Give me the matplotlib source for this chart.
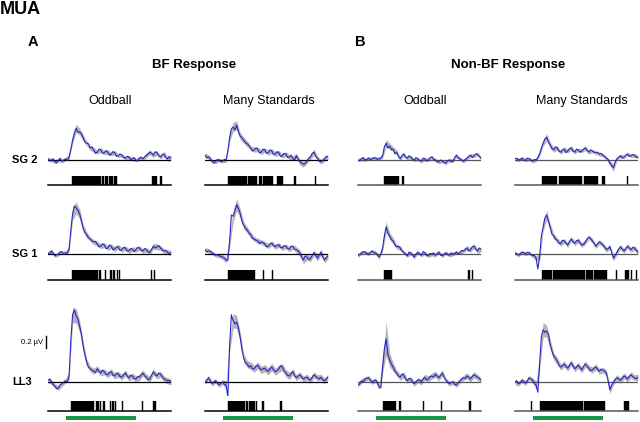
import numpy as np
import matplotlib
matplotlib.use('Agg')
import matplotlib.pyplot as plt

plt.rcParams['font.family'] = ['Liberation Sans', 'DejaVu Sans']

# time base of the averaged MUA traces (ms), 5 ms samples
time_ms = [-50, -45, -40, -35, -30, -25, -20, -15, -10, -5, 0,
           5, 10, 15, 20, 25, 30, 35, 40, 45, 50, 55, 60, 65, 70, 75, 80, 85, 90, 95, 100,
           105, 110, 115, 120, 125, 130, 135, 140, 145, 150, 155, 160, 165, 170, 175, 180, 185, 190, 195, 200,
           205, 210, 215, 220, 225, 230, 235, 240, 245, 250, 255, 260, 265, 270, 275, 280, 285, 290, 295, 300]
# the SEM was read on a 10 ms grid (every second sample)
sem_time_ms = time_ms[::2]
stim_on, stim_off = 0, 200
scale_uv = 0.2

row_names = ['SG 2', 'SG 1', 'LL3']
col_names = ['Oddball', 'Many Standards', 'Oddball', 'Many Standards']
group_names = ['BF Response', 'Non-BF Response']

# mean MUA (uV) - SG 2
sg2_bf_odd = [0.02, -0.02, 0.00, 0.02, -0.03, -0.05, 0.00, 0.03, -0.02, 0.00, 0.02,
              -0.01, 0.05, 0.18, 0.33, 0.45, 0.53, 0.46, 0.47, 0.44, 0.37, 0.30, 0.28, 0.27, 0.20, 0.22, 0.17, 0.11, 0.13, 0.18, 0.17,
              0.11, 0.12, 0.16, 0.13, 0.08, 0.10, 0.14, 0.12, 0.06, 0.07, 0.10, 0.08, 0.04, 0.03, 0.06, 0.05, 0.00, 0.02, 0.04, 0.00,
              -0.02, 0.03, 0.05, 0.02, 0.05, 0.08, 0.10, 0.13, 0.11, 0.08, 0.14, 0.12, 0.07, 0.05, 0.09, 0.10, 0.04, 0.02, 0.06, 0.03]
sg2_bf_ms = [0.08, 0.04, 0.05, 0.03, -0.02, -0.05, -0.03, 0.01, 0.00, -0.03, -0.02,
             0.01, 0.00, 0.15, 0.37, 0.52, 0.55, 0.50, 0.58, 0.47, 0.40, 0.37, 0.33, 0.29, 0.27, 0.24, 0.20, 0.15, 0.17, 0.20, 0.18,
             0.12, 0.13, 0.18, 0.17, 0.11, 0.12, 0.17, 0.15, 0.09, 0.10, 0.14, 0.12, 0.06, 0.07, 0.11, 0.10, 0.04, 0.05, 0.08, 0.03,
             0.00, 0.07, 0.01, -0.03, -0.05, -0.07, -0.06, -0.02, 0.03, 0.05, 0.11, 0.13, 0.06, 0.03, -0.02, -0.03, -0.01, 0.02, 0.06, 0.05]
sg2_nbf_odd = [0.00, -0.01, 0.02, 0.04, 0.00, 0.01, 0.03, 0.00, 0.02, 0.04, 0.03,
               0.01, 0.02, 0.03, 0.07, 0.22, 0.28, 0.20, 0.23, 0.17, 0.18, 0.10, 0.13, 0.06, 0.02, 0.07, 0.10, 0.04, 0.03, 0.07, 0.05,
               0.01, 0.00, 0.04, 0.02, -0.01, -0.02, 0.03, 0.02, -0.02, 0.00, 0.04, 0.05, 0.01, 0.00, -0.03, -0.03, 0.00, -0.02, -0.04, -0.05,
               -0.01, 0.00, -0.03, -0.02, 0.04, 0.08, 0.03, 0.02, 0.00, -0.02, 0.01, 0.03, 0.06, 0.08, 0.04, 0.07, 0.10, 0.10, 0.06, 0.03]
sg2_nbf_ms = [0.02, 0.03, 0.00, 0.01, 0.03, -0.01, 0.00, 0.03, 0.02, 0.00, -0.02,
              0.01, 0.00, 0.04, 0.10, 0.20, 0.28, 0.35, 0.38, 0.30, 0.25, 0.19, 0.17, 0.22, 0.20, 0.15, 0.13, 0.17, 0.18, 0.12, 0.15,
              0.19, 0.20, 0.15, 0.13, 0.18, 0.17, 0.13, 0.15, 0.18, 0.20, 0.16, 0.13, 0.17, 0.15, 0.13, 0.12, 0.13, 0.10, 0.11, 0.08,
              0.06, 0.03, 0.01, -0.05, -0.09, -0.13, -0.03, 0.02, 0.05, 0.07, 0.03, 0.05, 0.08, 0.10, 0.06, 0.07, 0.09, 0.08, 0.04, 0.05]
# SG 1
sg1_bf_odd = [0.02, 0.00, 0.05, 0.01, -0.03, -0.01, 0.00, 0.04, 0.03, -0.01, 0.02,
              0.02, 0.08, 0.40, 0.67, 0.80, 0.77, 0.73, 0.67, 0.55, 0.43, 0.36, 0.32, 0.27, 0.25, 0.22, 0.20, 0.21, 0.17, 0.12, 0.13,
              0.17, 0.15, 0.09, 0.10, 0.15, 0.13, 0.07, 0.08, 0.12, 0.12, 0.06, 0.07, 0.11, 0.10, 0.05, 0.05, 0.09, 0.08, 0.04, 0.07,
              0.11, 0.10, 0.06, 0.05, 0.09, 0.07, 0.03, 0.03, 0.08, 0.13, 0.10, 0.12, 0.14, 0.10, 0.07, 0.05, 0.06, 0.03, 0.01, 0.02]
sg1_bf_ms = [0.07, 0.04, 0.05, 0.05, 0.02, 0.00, -0.02, -0.01, -0.03, -0.04, -0.05,
             -0.07, -0.10, -0.11, 0.20, 0.65, 0.63, 0.72, 0.82, 0.76, 0.68, 0.55, 0.48, 0.43, 0.40, 0.35, 0.32, 0.26, 0.25, 0.23, 0.22,
             0.17, 0.20, 0.19, 0.17, 0.12, 0.13, 0.17, 0.18, 0.14, 0.12, 0.15, 0.15, 0.11, 0.10, 0.14, 0.13, 0.09, 0.08, 0.13, 0.12,
             0.08, 0.07, 0.05, 0.02, -0.06, -0.10, -0.03, -0.05, -0.09, -0.08, -0.02, 0.02, -0.02, -0.07, -0.02, 0.03, -0.05, -0.10, -0.06, -0.03]
sg1_nbf_odd = [-0.03, 0.00, 0.02, 0.04, 0.03, 0.01, 0.00, 0.03, 0.05, 0.02, 0.02,
               -0.01, -0.05, 0.00, 0.10, 0.30, 0.45, 0.35, 0.30, 0.24, 0.22, 0.15, 0.12, 0.13, 0.10, 0.05, 0.03, 0.00, -0.03, 0.03, 0.02,
               -0.02, -0.05, 0.00, 0.03, 0.00, -0.02, 0.04, 0.02, -0.03, -0.03, 0.01, 0.00, 0.02, -0.02, 0.01, 0.03, -0.02, -0.03, 0.00, 0.02,
               -0.01, -0.02, 0.02, 0.00, 0.01, 0.03, 0.00, 0.02, 0.06, 0.05, 0.08, 0.10, 0.05, 0.07, 0.12, 0.13, 0.08, 0.05, 0.10, 0.08]
sg1_nbf_ms = [0.02, 0.00, -0.02, 0.01, 0.03, 0.02, 0.00, 0.03, 0.02, -0.01, -0.03,
              -0.02, -0.07, -0.25, -0.05, 0.30, 0.45, 0.60, 0.65, 0.55, 0.45, 0.33, 0.30, 0.25, 0.23, 0.18, 0.17, 0.23, 0.22, 0.18, 0.15,
              0.21, 0.25, 0.20, 0.18, 0.22, 0.23, 0.18, 0.15, 0.16, 0.20, 0.25, 0.28, 0.26, 0.22, 0.18, 0.13, 0.17, 0.20, 0.18, 0.15,
              0.12, 0.07, 0.09, 0.12, 0.03, -0.07, -0.02, 0.03, 0.08, 0.12, 0.08, 0.05, 0.09, 0.13, 0.10, 0.07, 0.11, 0.10, 0.06, 0.03]
# LL3
ll3_bf_odd = [0.03, 0.05, 0.00, -0.05, -0.07, -0.11, -0.10, -0.04, -0.03, 0.00, 0.02,
              0.00, 0.10, 0.70, 1.12, 1.20, 1.10, 1.05, 0.93, 0.80, 0.60, 0.45, 0.33, 0.25, 0.22, 0.20, 0.18, 0.16, 0.22, 0.18, 0.15,
              0.20, 0.17, 0.13, 0.12, 0.16, 0.17, 0.11, 0.10, 0.15, 0.13, 0.09, 0.08, 0.12, 0.15, 0.10, 0.07, 0.11, 0.10, 0.06, 0.05,
              0.09, 0.08, 0.12, 0.15, 0.10, 0.08, 0.04, 0.05, 0.12, 0.17, 0.12, 0.10, 0.15, 0.13, 0.09, 0.05, 0.04, 0.02, 0.03, 0.00]
ll3_bf_ms = [0.00, 0.03, 0.07, 0.02, -0.03, 0.00, 0.02, -0.02, -0.05, -0.02, 0.00,
             -0.04, -0.05, -0.25, 0.60, 1.12, 1.02, 0.97, 1.00, 0.90, 0.75, 0.55, 0.40, 0.32, 0.30, 0.25, 0.27, 0.22, 0.22, 0.26, 0.28,
             0.23, 0.20, 0.22, 0.23, 0.19, 0.18, 0.22, 0.25, 0.20, 0.17, 0.19, 0.22, 0.27, 0.25, 0.18, 0.15, 0.11, 0.10, 0.14, 0.17,
             0.10, 0.07, 0.10, 0.12, 0.08, 0.05, 0.07, 0.08, 0.05, 0.03, 0.08, 0.12, 0.09, 0.07, 0.05, 0.08, 0.04, 0.02, 0.05, 0.08]
ll3_nbf_odd = [-0.05, -0.03, 0.02, 0.00, 0.05, 0.06, 0.07, 0.03, 0.00, 0.02, 0.03,
               0.00, -0.08, -0.10, 0.25, 0.55, 0.72, 0.45, 0.37, 0.30, 0.25, 0.18, 0.15, 0.10, 0.08, 0.13, 0.12, 0.05, 0.02, 0.06, 0.05,
               0.00, -0.03, 0.01, 0.03, 0.04, 0.00, 0.05, 0.08, 0.03, 0.05, 0.09, 0.10, 0.08, 0.13, 0.10, 0.07, 0.11, 0.15, 0.08, 0.03,
               0.00, -0.03, -0.01, 0.00, -0.04, -0.05, -0.01, 0.02, 0.05, 0.07, 0.06, 0.10, 0.08, 0.05, 0.09, 0.12, 0.10, 0.08, 0.06, 0.03]
ll3_nbf_ms = [0.00, 0.02, -0.03, -0.01, 0.03, 0.01, -0.02, 0.02, 0.07, 0.05, 0.03,
              -0.03, -0.05, -0.17, 0.30, 0.75, 0.87, 0.83, 0.85, 0.80, 0.63, 0.52, 0.43, 0.40, 0.35, 0.28, 0.25, 0.27, 0.30, 0.26, 0.23,
              0.28, 0.32, 0.27, 0.22, 0.25, 0.28, 0.24, 0.20, 0.26, 0.30, 0.26, 0.23, 0.19, 0.20, 0.23, 0.25, 0.21, 0.18, 0.21, 0.20,
              0.18, 0.15, 0.02, -0.13, -0.05, 0.00, 0.04, 0.07, 0.05, 0.03, 0.06, 0.10, 0.08, 0.05, 0.09, 0.12, 0.09, 0.07, 0.05, 0.08]

# SEM (uV), 10 ms grid
sg2_bf_odd_sem = [0.03, 0.03, 0.03, 0.03, 0.03, 0.03, 0.04, 0.05, 0.07, 0.06, 0.05, 0.04, 0.04, 0.04, 0.03, 0.04, 0.03, 0.04,
                  0.03, 0.04, 0.03, 0.03, 0.03, 0.03, 0.03, 0.03, 0.03, 0.03, 0.04, 0.04, 0.04, 0.04, 0.03, 0.04, 0.04, 0.04]
sg2_bf_ms_sem = [0.04, 0.04, 0.03, 0.03, 0.03, 0.03, 0.04, 0.06, 0.08, 0.07, 0.06, 0.05, 0.05, 0.04, 0.04, 0.04, 0.04, 0.04,
                 0.04, 0.04, 0.04, 0.04, 0.04, 0.04, 0.04, 0.04, 0.04, 0.05, 0.05, 0.04, 0.04, 0.05, 0.04, 0.04, 0.04, 0.04]
sg2_nbf_odd_sem = [0.03, 0.03, 0.03, 0.03, 0.03, 0.03, 0.03, 0.04, 0.06, 0.05, 0.04, 0.04, 0.03, 0.03, 0.03, 0.03, 0.03, 0.03,
                   0.03, 0.03, 0.03, 0.03, 0.03, 0.03, 0.03, 0.03, 0.03, 0.03, 0.03, 0.03, 0.03, 0.03, 0.03, 0.03, 0.03, 0.03]
sg2_nbf_ms_sem = [0.03, 0.03, 0.03, 0.03, 0.03, 0.03, 0.03, 0.04, 0.05, 0.06, 0.05, 0.04, 0.04, 0.03, 0.04, 0.03, 0.04, 0.03,
                  0.03, 0.03, 0.04, 0.03, 0.03, 0.03, 0.03, 0.03, 0.03, 0.04, 0.06, 0.03, 0.03, 0.03, 0.03, 0.03, 0.03, 0.03]
sg1_bf_odd_sem = [0.03, 0.03, 0.03, 0.03, 0.03, 0.03, 0.05, 0.10, 0.10, 0.08, 0.06, 0.05, 0.04, 0.04, 0.04, 0.04, 0.04, 0.04,
                  0.04, 0.04, 0.04, 0.04, 0.04, 0.04, 0.04, 0.04, 0.04, 0.04, 0.04, 0.04, 0.05, 0.05, 0.04, 0.04, 0.04, 0.04]
sg1_bf_ms_sem = [0.04, 0.04, 0.03, 0.03, 0.03, 0.04, 0.05, 0.08, 0.10, 0.10, 0.08, 0.06, 0.05, 0.05, 0.04, 0.04, 0.04, 0.04,
                 0.04, 0.04, 0.04, 0.04, 0.04, 0.04, 0.04, 0.04, 0.05, 0.05, 0.06, 0.05, 0.05, 0.05, 0.05, 0.05, 0.05, 0.05]
sg1_nbf_odd_sem = [0.03, 0.03, 0.03, 0.03, 0.03, 0.03, 0.04, 0.05, 0.09, 0.06, 0.05, 0.04, 0.04, 0.03, 0.03, 0.03, 0.03, 0.03,
                   0.03, 0.03, 0.03, 0.03, 0.03, 0.03, 0.03, 0.03, 0.03, 0.03, 0.03, 0.03, 0.03, 0.04, 0.04, 0.04, 0.04, 0.04]
sg1_nbf_ms_sem = [0.03, 0.03, 0.03, 0.03, 0.03, 0.03, 0.04, 0.06, 0.07, 0.08, 0.06, 0.05, 0.04, 0.04, 0.04, 0.04, 0.04, 0.04,
                  0.04, 0.04, 0.04, 0.04, 0.04, 0.04, 0.04, 0.04, 0.04, 0.04, 0.05, 0.04, 0.04, 0.04, 0.04, 0.04, 0.04, 0.04]
ll3_bf_odd_sem = [0.04, 0.04, 0.04, 0.04, 0.04, 0.04, 0.06, 0.13, 0.12, 0.10, 0.08, 0.06, 0.05, 0.05, 0.05, 0.05, 0.05, 0.05,
                  0.05, 0.05, 0.05, 0.05, 0.05, 0.05, 0.05, 0.05, 0.05, 0.05, 0.05, 0.05, 0.05, 0.05, 0.05, 0.05, 0.05, 0.05]
ll3_bf_ms_sem = [0.04, 0.04, 0.04, 0.04, 0.04, 0.04, 0.07, 0.10, 0.12, 0.11, 0.09, 0.07, 0.06, 0.06, 0.06, 0.06, 0.06, 0.06,
                 0.06, 0.06, 0.06, 0.06, 0.06, 0.06, 0.06, 0.05, 0.05, 0.05, 0.05, 0.05, 0.05, 0.05, 0.05, 0.05, 0.05, 0.05]
ll3_nbf_odd_sem = [0.04, 0.04, 0.04, 0.04, 0.04, 0.04, 0.05, 0.10, 0.28, 0.12, 0.07, 0.05, 0.05, 0.05, 0.04, 0.04, 0.04, 0.04,
                   0.05, 0.05, 0.05, 0.05, 0.05, 0.05, 0.05, 0.04, 0.04, 0.04, 0.04, 0.04, 0.04, 0.05, 0.05, 0.05, 0.05, 0.04]
ll3_nbf_ms_sem = [0.04, 0.04, 0.04, 0.04, 0.04, 0.04, 0.07, 0.10, 0.12, 0.10, 0.08, 0.06, 0.06, 0.05, 0.05, 0.05, 0.05, 0.05,
                  0.05, 0.05, 0.05, 0.05, 0.05, 0.05, 0.05, 0.05, 0.05, 0.06, 0.05, 0.05, 0.05, 0.05, 0.05, 0.05, 0.05, 0.05]

# significant time windows (ms)
sg2_bf_odd_sig = [(17, 100), (103, 108), (113, 120), (123, 136), (139, 146), (245, 259), (269, 273)]
sg2_bf_ms_sig = [(16, 69), (72, 97), (104, 112), (115, 144), (156, 173), (204, 208), (263, 267)]
sg2_nbf_odd_sig = [(25, 67), (74, 81)]
sg2_nbf_ms_sig = [(26, 69), (76, 140), (147, 187), (197, 206), (268, 271)]
sg1_bf_odd_sig = [(17, 93), (95, 100), (112, 115), (126, 131), (136, 141), (145, 150), (152, 155), (243, 246), (251, 254)]
sg1_bf_ms_sig = [(16, 92), (114, 118), (140, 144)]
sg1_nbf_odd_sig = [(24, 46), (264, 269), (274, 278)]
sg1_nbf_ms_sig = [(26, 56), (58, 77), (79, 120), (122, 149), (151, 172), (174, 182), (184, 211), (238, 240),
                  (262, 275), (281, 283), (295, 297)]
ll3_bf_odd_sig = [(16, 82), (87, 96), (98, 102), (107, 111), (125, 129), (133, 138), (141, 144), (160, 163), (217, 220),
                  (250, 257)]
ll3_bf_ms_sig = [(16, 64), (66, 73), (76, 83), (85, 92), (95, 99), (113, 118), (163, 169)]
ll3_nbf_odd_sig = [(22, 57), (67, 72), (134, 138), (186, 189), (267, 271)]
ll3_nbf_ms_sig = [(-5, -2), (21, 144), (146, 206), (261, 275)]

panels = [
    [(sg2_bf_odd, sg2_bf_odd_sem, sg2_bf_odd_sig), (sg2_bf_ms, sg2_bf_ms_sem, sg2_bf_ms_sig),
     (sg2_nbf_odd, sg2_nbf_odd_sem, sg2_nbf_odd_sig), (sg2_nbf_ms, sg2_nbf_ms_sem, sg2_nbf_ms_sig)],
    [(sg1_bf_odd, sg1_bf_odd_sem, sg1_bf_odd_sig), (sg1_bf_ms, sg1_bf_ms_sem, sg1_bf_ms_sig),
     (sg1_nbf_odd, sg1_nbf_odd_sem, sg1_nbf_odd_sig), (sg1_nbf_ms, sg1_nbf_ms_sem, sg1_nbf_ms_sig)],
    [(ll3_bf_odd, ll3_bf_odd_sem, ll3_bf_odd_sig), (ll3_bf_ms, ll3_bf_ms_sem, ll3_bf_ms_sig),
     (ll3_nbf_odd, ll3_nbf_odd_sem, ll3_nbf_odd_sig), (ll3_nbf_ms, ll3_nbf_ms_sem, ll3_nbf_ms_sig)],
]

W, H = 640, 422
PX_PER_UV = 60.0
col_x = [(48, 171), (205, 328), (358, 481), (515, 638)]
row_box = [(112, 172, 160), (195, 272, 254), (295, 396, 382)]  # top, bottom, zero line (px)
sig_box = [(176, 185), (270, 280), (401, 411)]
line_col = ['black', 'black', '#555555', '#555555']


def px_axes(fig, x0, y0, x1, y1):
    ax = fig.add_axes([x0 / W, 1 - y1 / H, (x1 - x0) / W, (y1 - y0) / H])
    ax.axis('off')
    ax.set_xlim(time_ms[0], time_ms[-1])
    return ax


def fig_text(fig, x, y, s, **kw):
    fig.text(x / W, 1 - y / H, s, **kw)


fig = plt.figure(figsize=(6.4, 4.22), dpi=100)

for r in range(3):
    top, bot, base = row_box[r]
    for c in range(4):
        x0, x1 = col_x[c]
        mean, sem, sig = panels[r][c]
        m = np.array(mean)
        m10 = m[::2]
        s = np.array(sem)
        ax = px_axes(fig, x0, top, x1, bot)
        ax.set_ylim(-(bot - base) / PX_PER_UV, (base - top) / PX_PER_UV)
        ax.fill_between(sem_time_ms, m10 - s, m10 + s, color='#b5b5b5', lw=0)
        ax.axhline(0, color=line_col[c], lw=0.9)
        ax.plot(time_ms, m, color='#2525c8', lw=0.8)
        if r == 2 and c == 0:
            # scale bar
            xb = time_ms[0] - 6
            y_lo = (base - 348) / PX_PER_UV
            ax.plot([xb, xb], [y_lo, y_lo + scale_uv], color='black', lw=1, clip_on=False)
            ax.text(xb - 9, y_lo + scale_uv / 2, '%.1f \u00b5V' % scale_uv, fontsize=5.5,
                    ha='right', va='center', clip_on=False)

        st, sb = sig_box[r]
        sx = px_axes(fig, x0, st, x1, sb)
        sx.set_ylim(0, 1)
        sx.broken_barh([(a, b - a) for a, b in sig], (0, 1), facecolor='black',
                       edgecolor='black', lw=0.3)
        sx.axhline(0, color=line_col[c], lw=1.1, clip_on=False)

        if r == 2:
            gx = px_axes(fig, x0, 416, x1, 420)
            gx.set_ylim(0, 1)
            gx.broken_barh([(stim_on, stim_off - stim_on)], (0, 1), facecolor='#15964a', lw=0)

# labels
fig_text(fig, 0, 9, 'MUA', fontsize=13, fontweight='bold', ha='left', va='center')
fig_text(fig, 28, 42, 'A', fontsize=10.5, fontweight='bold', ha='left', va='center')
fig_text(fig, 355, 42, 'B', fontsize=10.5, fontweight='bold', ha='left', va='center')
fig_text(fig, 194, 65, group_names[0], fontsize=9.5, fontweight='bold', ha='center', va='center')
fig_text(fig, 508, 65, group_names[1], fontsize=9.5, fontweight='bold', ha='center', va='center')
for cx, name in zip([110, 269, 425, 582], col_names):
    fig_text(fig, cx, 101, name, fontsize=9, ha='center', va='center')
for (top, bot, base), name in zip(row_box, row_names):
    fig_text(fig, 12, base, name, fontsize=8, fontweight='bold', ha='left', va='center')

fig.savefig('out.png', dpi=100)
